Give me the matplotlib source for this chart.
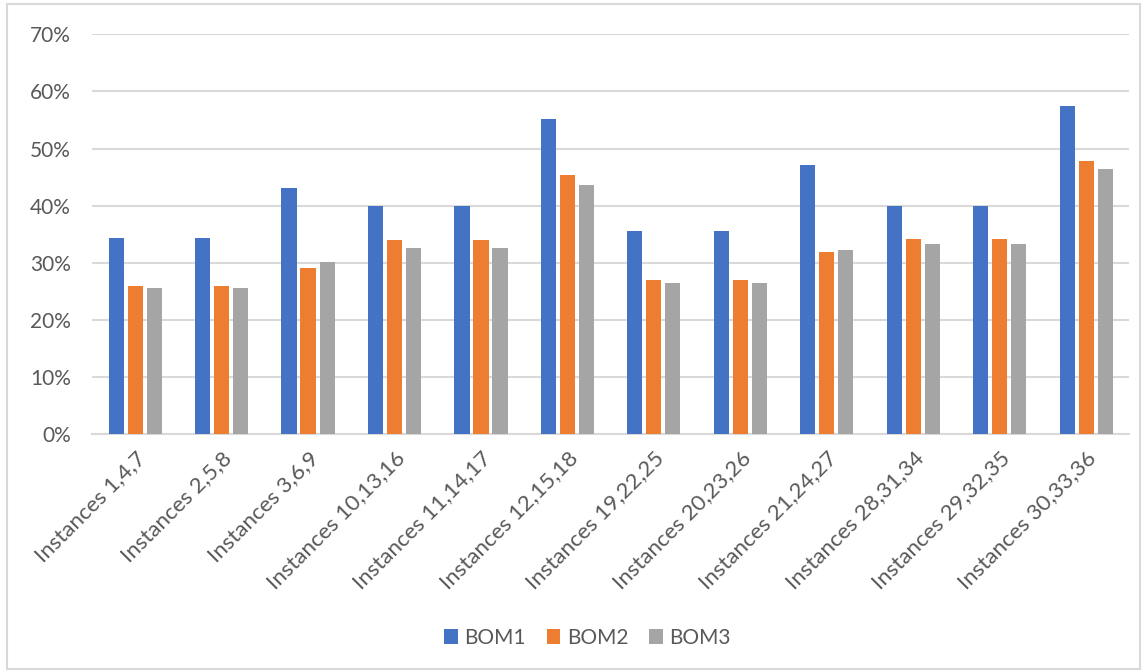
import numpy as np
import matplotlib.pyplot as plt
import matplotlib
from matplotlib.patches import Rectangle
from matplotlib.ticker import PercentFormatter

plt.rcParams['font.family'] = ['Lato', 'DejaVu Sans']

categories = ['Instances 1,4,7', 'Instances 2,5,8', 'Instances 3,6,9',
              'Instances 10,13,16', 'Instances 11,14,17', 'Instances 12,15,18',
              'Instances 19,22,25', 'Instances 20,23,26', 'Instances 21,24,27',
              'Instances 28,31,34', 'Instances 29,32,35', 'Instances 30,33,36']

bom1 = [34.3, 34.3, 43.0, 40.0, 40.0, 55.2, 35.6, 35.6, 47.1, 39.9, 39.9, 57.4]
bom2 = [26.0, 26.0, 29.0, 33.9, 33.9, 45.4, 26.9, 26.9, 31.8, 34.2, 34.2, 47.9]
bom3 = [25.6, 25.6, 30.2, 32.6, 32.6, 43.6, 26.5, 26.5, 32.2, 33.3, 33.3, 46.4]

series = [('BOM1', bom1, '#4472c4'), ('BOM2', bom2, '#ed7d31'), ('BOM3', bom3, '#a5a5a5')]

fig = plt.figure(figsize=(11.45, 6.72), dpi=100)
ax = fig.add_axes([0.0803, 0.354, 0.906, 0.595])

x = np.arange(len(categories))
step = 0.22
width = 0.175
for i, (name, vals, col) in enumerate(series):
    ax.bar(x + (i - 1) * step, vals, width, color=col, label=name, zorder=3)

ax.set_xlim(-0.5, len(categories) - 0.5)
ax.set_ylim(0, 70)
ax.set_yticks(np.arange(0, 71, 10))
ax.yaxis.set_major_formatter(PercentFormatter(decimals=0))
ax.grid(axis='y', color='#d9d9d9', linewidth=1.5, zorder=0)
for s in ['top', 'right', 'left']:
    ax.spines[s].set_visible(False)
ax.spines['bottom'].set_color('#d9d9d9')
ax.spines['bottom'].set_linewidth(1.5)

ax.set_xticks(x)
ax.set_xticklabels(categories, rotation=45, ha='right', rotation_mode='anchor')
ax.tick_params(axis='both', length=0, labelsize=15, labelcolor='#595959')
ax.tick_params(axis='x', labelsize=16, pad=10)
ax.tick_params(axis='y', pad=15)

ax.legend(loc='center', bbox_to_anchor=(0.513, 0.051), bbox_transform=fig.transFigure,
          ncol=3, frameon=False, fontsize=15, labelcolor='#595959',
          handlelength=0.67, handleheight=0.67, handletextpad=0.3, columnspacing=1.0)

fig.patches.append(Rectangle((0.006, 0.004), 0.99, 0.99, transform=fig.transFigure,
                             fill=False, edgecolor='#d9d9d9', linewidth=1.5))

fig.savefig('out.png', dpi=100)
